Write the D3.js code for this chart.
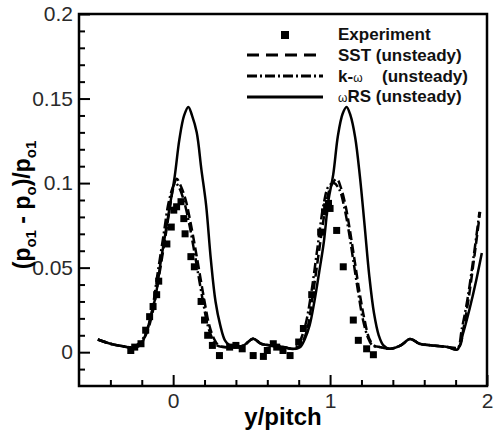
<!DOCTYPE html>
<html>
<head>
<meta charset="utf-8">
<script src="https://cdn.jsdelivr.net/npm/d3@7"></script>
<style>
  body { margin: 0; background: #fff; }
  text { font-family: "Liberation Sans", Arial, sans-serif; }
</style>
</head>
<body>
<div class="chart"></div>
<script>
// data
var expX = [-0.27, -0.245, -0.205, -0.175, -0.15, -0.128, -0.105, -0.092, -0.04, -0.012, 0.004, 0.022, 0.05, 0.068, 0.076, 0.113, 0.135, 0.178, 0.2, 0.22, 0.25, 0.295,
  0.36, 0.40, 0.44, 0.51, 0.575, 0.60, 0.638, 0.66, 0.70, 0.745, 0.80,
  0.83, 0.883, 0.94, 0.965, 0.978, 0.99, 1.0, 1.042, 1.084, 1.148, 1.18, 1.233, 1.276];
var expY = [0.001, 0.003, 0.005, 0.013, 0.021, 0.027, 0.034, 0.042, 0.064, 0.074, 0.084, 0.086, 0.089, 0.079, 0.070, 0.0565, 0.0505, 0.030, 0.019, 0.010, 0.004, -0.002,
  0.003, 0.004, 0.002, -0.002, -0.0025, 0.001, 0.005, 0.003, 0.001, -0.002, 0.006,
  0.014, 0.034, 0.071, 0.083, 0.086, 0.088, 0.085, 0.072, 0.0505, 0.019, 0.007, 0.002, -0.0015];

var sstX = [-0.48, -0.40, -0.32, -0.26, -0.21, -0.17, -0.13, -0.09, -0.05, -0.02, 0.00, 0.023, 0.05, 0.08, 0.11, 0.14, 0.17, 0.20, 0.23, 0.26, 0.29, 0.33, 0.36,
  0.40, 0.45, 0.51, 0.56, 0.62, 0.70, 0.78,
  0.81, 0.85, 0.89, 0.93, 0.97, 1.00, 1.042, 1.07, 1.10, 1.13, 1.16, 1.19, 1.22, 1.25, 1.28, 1.32, 1.38,
  1.45, 1.51, 1.57, 1.65, 1.75, 1.82, 1.85, 1.88, 1.92, 1.956];
var sstY = [0.0075, 0.005, 0.0035, 0.003, 0.005, 0.011, 0.024, 0.045, 0.068, 0.086, 0.097, 0.1025, 0.098, 0.090, 0.077, 0.062, 0.046, 0.030, 0.016, 0.008, 0.004, 0.003, 0.003,
  0.003, 0.004, 0.008, 0.005, 0.004, 0.003, 0.002,
  0.004, 0.012, 0.034, 0.060, 0.085, 0.097, 0.1025, 0.097, 0.086, 0.070, 0.052, 0.034, 0.019, 0.008, 0.004, 0.003, 0.002,
  0.004, 0.0078, 0.005, 0.004, 0.003, 0.003, 0.014, 0.030, 0.057, 0.083];

var kwX = [-0.48, -0.40, -0.32, -0.26, -0.22, -0.18, -0.14, -0.10, -0.06, -0.03, 0.00, 0.015, 0.04, 0.07, 0.10, 0.13, 0.16, 0.19, 0.22, 0.25, 0.28, 0.32, 0.36,
  0.40, 0.45, 0.51, 0.56, 0.62, 0.70, 0.77,
  0.80, 0.84, 0.88, 0.92, 0.96, 0.99, 1.025, 1.06, 1.09, 1.12, 1.15, 1.18, 1.21, 1.24, 1.27, 1.32, 1.38,
  1.45, 1.51, 1.57, 1.65, 1.75, 1.81, 1.84, 1.875, 1.92, 1.952];
var kwY = [0.0075, 0.005, 0.0035, 0.003, 0.005, 0.010, 0.022, 0.046, 0.070, 0.088, 0.098, 0.100, 0.097, 0.089, 0.077, 0.062, 0.046, 0.030, 0.016, 0.008, 0.004, 0.003, 0.003,
  0.003, 0.004, 0.008, 0.005, 0.004, 0.003, 0.002,
  0.005, 0.015, 0.035, 0.062, 0.088, 0.098, 0.100, 0.096, 0.086, 0.071, 0.053, 0.035, 0.019, 0.009, 0.004, 0.003, 0.002,
  0.004, 0.0078, 0.005, 0.004, 0.003, 0.002, 0.014, 0.031, 0.060, 0.083];

var wrsX = [-0.48, -0.40, -0.32, -0.26, -0.21, -0.17, -0.14, -0.11, -0.08, -0.05, -0.02, 0.01, 0.04, 0.07, 0.097, 0.12, 0.15, 0.18, 0.21, 0.24, 0.27, 0.30, 0.33, 0.36,
  0.40, 0.45, 0.51, 0.56, 0.62, 0.70, 0.78,
  0.81, 0.84, 0.87, 0.90, 0.93, 0.96, 0.99, 1.02, 1.05, 1.08, 1.105, 1.13, 1.16, 1.19, 1.22, 1.25, 1.28, 1.31, 1.34, 1.38,
  1.45, 1.51, 1.57, 1.65, 1.75, 1.81, 1.85, 1.89, 1.93, 1.967];
var wrsY = [0.0075, 0.005, 0.0035, 0.0025, 0.004, 0.012, 0.022, 0.034, 0.053, 0.070, 0.087, 0.104, 0.126, 0.140, 0.145, 0.140, 0.130, 0.108, 0.087, 0.055, 0.030, 0.016, 0.007, 0.004,
  0.003, 0.004, 0.008, 0.005, 0.004, 0.003, 0.002,
  0.003, 0.008, 0.016, 0.030, 0.047, 0.065, 0.090, 0.105, 0.128, 0.141, 0.145, 0.140, 0.127, 0.104, 0.075, 0.045, 0.023, 0.010, 0.004, 0.002,
  0.004, 0.0078, 0.005, 0.004, 0.003, 0.0015, 0.012, 0.026, 0.042, 0.0587];

var xMajor = [0, 1, 2];
var xMinor = [-0.4, -0.2, 0.2, 0.4, 0.6, 0.8, 1.2, 1.4, 1.6, 1.8];
var yMajor = [0, 0.05, 0.1, 0.15, 0.2];
var yMinor = [-0.01, 0.01, 0.02, 0.03, 0.04, 0.06, 0.07, 0.08, 0.09, 0.11, 0.12, 0.13, 0.14, 0.16, 0.17, 0.18, 0.19];
var yLabels = ['0', '0.05', '0.1', '0.15', '0.2'];

var width = 494,
  height = 432;

var svg = d3.select('.chart')
  .append('svg')
  .attr('width', width)
  .attr('height', height);

var xScale = d3.scaleLinear().domain([-0.6, 2]).range([79, 487]);
var yScale = d3.scaleLinear().domain([-0.02, 0.2]).range([386, 14]);

//AXES (ticks point inward)
function styleAxis(g) {
  g.select('.domain').remove();
  g.selectAll('line').attr('stroke', '#000').attr('stroke-width', 2);
  g.selectAll('text')
    .style('font-family', '"Liberation Sans", Arial, sans-serif')
    .style('font-size', '21px')
    .attr('fill', '#2a2a2a');
}

svg.append('g')
  .attr('transform', 'translate(79,0)')
  .call(d3.axisLeft(yScale).tickValues(yMinor).tickSize(-6).tickFormat(''))
  .call(styleAxis);

svg.append('g')
  .attr('transform', 'translate(79,0)')
  .call(d3.axisLeft(yScale).tickValues(yMajor).tickSize(-11).tickPadding(6)
    .tickFormat(function(d, i) { return yLabels[i]; }))
  .call(styleAxis);

svg.append('g')
  .attr('transform', 'translate(0,386)')
  .call(d3.axisBottom(xScale).tickValues(xMinor).tickSize(-6).tickFormat(''))
  .call(styleAxis);

svg.append('g')
  .attr('transform', 'translate(0,386)')
  .call(d3.axisBottom(xScale).tickValues(xMajor).tickSize(-11).tickPadding(7).tickFormat(d3.format('d')))
  .call(styleAxis);

//FRAME
svg.append('rect')
  .attr('x', 79).attr('y', 14)
  .attr('width', 408).attr('height', 372)
  .attr('fill', 'none')
  .attr('stroke', '#000')
  .attr('stroke-width', 2.5);

//CURVES
var series = [
  {xs: sstX, ys: sstY, dash: '9,4'},
  {xs: kwX, ys: kwY, dash: '10,3,2,3'},
  {xs: wrsX, ys: wrsY, dash: null}
];

var line = d3.line()
  .x(function(d) { return xScale(d[0]); })
  .y(function(d) { return yScale(d[1]); })
  .curve(d3.curveCatmullRom.alpha(0.5));

series.forEach(function(s) {
  svg.append('path')
    .datum(d3.zip(s.xs, s.ys))
    .attr('d', line)
    .attr('fill', 'none')
    .attr('stroke', '#000')
    .attr('stroke-width', 2.5)
    .attr('stroke-dasharray', s.dash);
});

//SQUARES
svg.selectAll('.exp')
  .data(d3.zip(expX, expY))
  .enter()
  .append('rect')
  .attr('class', 'exp')
  .attr('x', function(d) { return xScale(d[0]) - 3.5; })
  .attr('y', function(d) { return yScale(d[1]) - 3.5; })
  .attr('width', 7)
  .attr('height', 7)
  .attr('fill', '#000');

//LEGEND
var lg = svg.append('g');
lg.append('rect').attr('x', 281).attr('y', 31).attr('width', 8).attr('height', 8).attr('fill', '#000');
lg.append('line').attr('x1', 247).attr('x2', 323).attr('y1', 55).attr('y2', 55)
  .attr('stroke', '#000').attr('stroke-width', 3).attr('stroke-dasharray', '12,7');
lg.append('line').attr('x1', 247).attr('x2', 323).attr('y1', 76).attr('y2', 76)
  .attr('stroke', '#000').attr('stroke-width', 3).attr('stroke-dasharray', '10,3,2,3');
lg.append('line').attr('x1', 247).attr('x2', 323).attr('y1', 97).attr('y2', 97)
  .attr('stroke', '#000').attr('stroke-width', 3);

var lt = lg.append('g')
  .style('font-size', '17px')
  .style('font-weight', 'bold')
  .attr('fill', '#111');
lt.append('text').attr('x', 338).attr('y', 40).text('Experiment');
lt.append('text').attr('x', 338).attr('y', 61).text('SST (unsteady)');
var t3 = lt.append('text').attr('x', 338).attr('y', 82);
t3.append('tspan').text('k-');
t3.append('tspan').style('font-size', '12px').style('font-weight', 'normal').text('ω');
t3.append('tspan').attr('x', 382).text('(unsteady)');
var t4 = lt.append('text').attr('x', 338).attr('y', 102);
t4.append('tspan').style('font-size', '12px').style('font-weight', 'normal').text('ω');
t4.append('tspan').text('RS (unsteady)');

//AXIS TITLES
svg.append('text')
  .attr('x', 283).attr('y', 425)
  .attr('text-anchor', 'middle')
  .style('font-size', '24px')
  .style('font-weight', 'bold')
  .text('y/pitch');

var yt = svg.append('text')
  .attr('transform', 'translate(30,205) rotate(-90)')
  .attr('text-anchor', 'middle')
  .style('font-size', '23px')
  .style('font-weight', 'bold');
yt.append('tspan').text('(p');
yt.append('tspan').attr('dy', 6).style('font-size', '15px').text('o1');
yt.append('tspan').attr('dy', -6).text(' - p');
yt.append('tspan').attr('dy', 6).style('font-size', '15px').text('o');
yt.append('tspan').attr('dy', -6).text(')/p');
yt.append('tspan').attr('dy', 6).style('font-size', '15px').text('o1');
</script>
</body>
</html>
